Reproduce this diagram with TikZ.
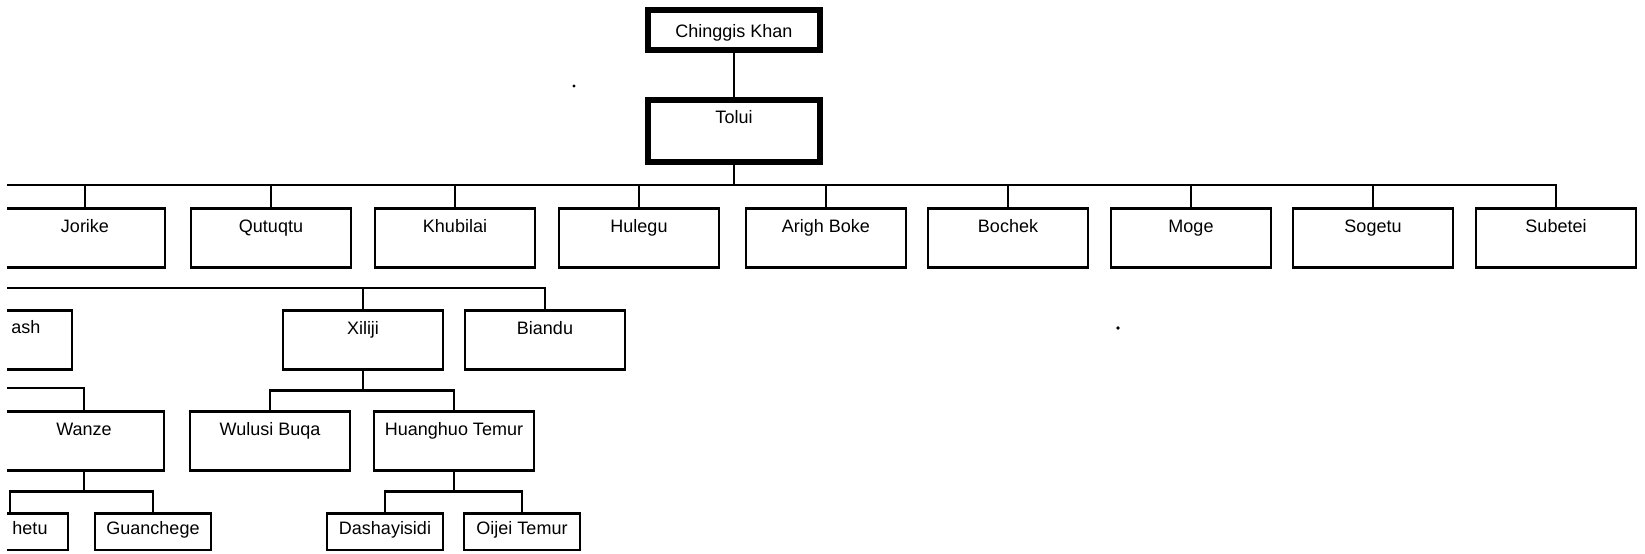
\documentclass[tikz,border=0pt]{standalone}
\usepackage{fontspec}
\setmainfont{Liberation Sans}
\usepackage{tikz}

\begin{document}
\begin{tikzpicture}[x=0.5pt, y=-0.5pt, font=\fontsize{9}{11}\selectfont]
        % Setup the style for the boxes
        \tikzset{person/.style={draw,
                                anchor=north,
                                line width=1.3pt,
                                minimum width=80pt,
                                inner xsep=2pt, inner ysep=0pt,
                                text height=12pt, text depth=17.5pt},
                 ruler/.style={person, line width=3pt, minimum width=86pt},
                 leaf/.style={person, minimum width=58pt,
                              text height=10.4pt, text depth=7.9pt},
                 link/.style={line width=1.3pt}}

        \useasboundingbox (0, 0) rectangle (1645, 553);
        \clip (7, 0) rectangle (1645, 553);

        % Draw the rulers
        \node[ruler, text height=13.5pt, text depth=6.5pt]  at (734, 7)  (chinggis) {Chinggis Khan};
        \node[ruler, text height=11.5pt, text depth=19.5pt] at (734, 97) (tolui)    {Tolui};

        % Draw the sons
        \node[person] at (85, 207)   (jorike)   {Jorike};
        \node[person] at (271, 207)  (qutuqtu)  {Qutuqtu};
        \node[person] at (455, 207)  (khubilai) {Khubilai};
        \node[person] at (639, 207)  (hulegu)   {Hulegu};
        \node[person] at (826, 207)  (arigh)    {Arigh Boke};
        \node[person] at (1008, 207) (bochek)   {Bochek};
        \node[person] at (1191, 207) (moge)     {Moge};
        \node[person] at (1373, 207) (sogetu)   {Sogetu};
        \node[person] at (1556, 207) (subetei)  {Subetei};

        % Draw the grandsons
        \node[person] at (-8, 309)  (ash)    {};
        \node[anchor=base] at (26, 333) (ash-name) {ash};
        \node[person] at (363, 309) (xiliji) {Xiliji};
        \node[person] at (545, 309) (biandu) {Biandu};

        \node[person] at (84, 410)  (wanze)    {Wanze};
        \node[person] at (270, 410) (wulusi)   {Wulusi Buqa};
        \node[person] at (454, 410) (huanghuo) {Huanghuo Temur};

        \node[leaf] at (10, 512)  (hetu)        {};
        \node[anchor=base] at (30, 534) (hetu-name) {hetu};
        \node[leaf] at (153, 512) (guanchege)   {Guanchege};
        \node[leaf] at (385, 512) (dashayisidi) {Dashayisidi};
        \node[leaf] at (522, 512) (oijei)       {Oijei Temur};

        % Connect the boxes
        \coordinate (bus1) at (7, 185);
        \coordinate (bus2) at (7, 288);
        \coordinate (bus3) at (7, 388);

        \draw[link] (chinggis) -- (tolui);
        \draw[link] (tolui) -- (tolui |- bus1);
        \draw[link] (bus1) -| (subetei.north);
        \foreach \kid in {jorike,qutuqtu,khubilai,hulegu,arigh,bochek,moge,sogetu}
            \draw[link] (\kid.north) -- (\kid.north |- bus1);

        \draw[link] (bus2) -| (biandu.north);
        \draw[link] (ash.north) -- (ash.north |- bus2);
        \draw[link] (xiliji.north) -- (xiliji.north |- bus2);
        \draw[link] (bus3) -| (wanze.north);

        \draw[link] (xiliji.south) -- ++(0, 20) coordinate (xiliji-bus);
        \draw[link] (wulusi.north) |- (xiliji-bus) -| (huanghuo.north);
        \draw[link] (wanze.south) -- ++(0, 20) coordinate (wanze-bus);
        \draw[link] (hetu.north) |- (wanze-bus) -| (guanchege.north);
        \draw[link] (huanghuo.south) -- ++(0, 20) coordinate (huanghuo-bus);
        \draw[link] (dashayisidi.north) |- (huanghuo-bus) -| (oijei.north);

        % specks
        \fill (574, 86) circle (1.6);
        \fill (1118, 328) circle (1.8);
\end{tikzpicture}
\end{document}
